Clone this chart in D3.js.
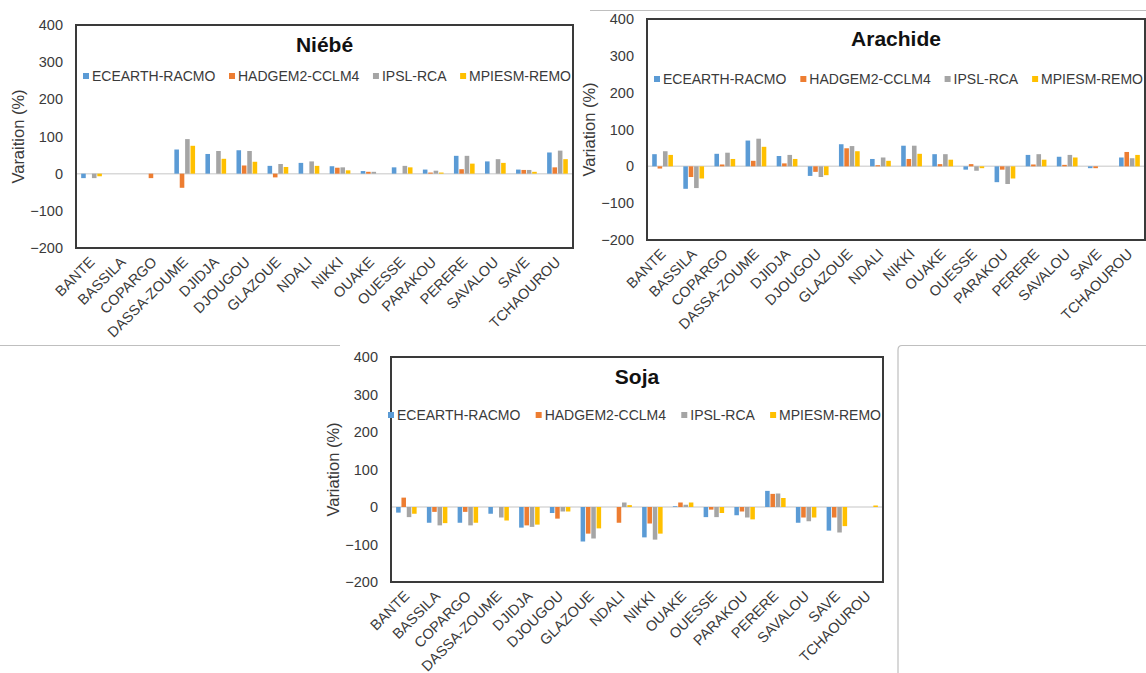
<!DOCTYPE html>
<html><head><meta charset="utf-8">
<script src="https://cdn.jsdelivr.net/npm/d3@7"></script>
<style>
body{margin:0;background:#fff;}
svg{display:block;font-family:"Liberation Sans",Arial,sans-serif;}
</style></head>
<body><svg id="c" width="1146" height="673"></svg>
<script>
const categories = ["BANTE","BASSILA","COPARGO","DASSA-ZOUME","DJIDJA","DJOUGOU","GLAZOUE","NDALI","NIKKI","OUAKE","OUESSE","PARAKOU","PERERE","SAVALOU","SAVE","TCHAOUROU"];
const seriesNames = ["ECEARTH-RACMO","HADGEM2-CCLM4","IPSL-RCA","MPIESM-REMO"];
const yTicks = [-200,-100,0,100,200,300,400];

const niebeEcearth = [-12, 0, 0, 65, 53, 63, 21, 29, 20, 7, 17, 11, 48, 33, 11, 57];
const niebeHadgem  = [0, 0, -12, -38, 0, 22, -10, 0, 16, 5, 0, 3, 12, 0, 10, 17];
const niebeIpsl    = [-12, 0, 0, 93, 61, 61, 26, 33, 17, 5, 21, 8, 48, 39, 10, 62];
const niebeMpiesm  = [-7, 0, 0, 75, 40, 32, 18, 21, 9, 0, 17, 3, 27, 29, 5, 39];

const arachideEcearth = [33, -61, 34, 70, 28, -26, 60, 20, 56, 33, -9, -43, 31, 26, -5, 24];
const arachideHadgem  = [-6, -29, 5, 15, 8, -15, 49, 3, 20, 6, 6, -9, 5, 4, -5, 39];
const arachideIpsl    = [41, -59, 37, 75, 31, -29, 55, 24, 56, 33, -12, -48, 33, 31, 0, 22];
const arachideMpiesm  = [31, -33, 20, 53, 20, -24, 41, 15, 34, 18, -5, -33, 18, 24, 0, 31];

const sojaEcearth = [-15, -42, -42, -18, -55, -16, -92, 0, -81, 2, -27, -22, 43, -42, -63, 0];
const sojaHadgem  = [25, -13, -13, 0, -49, -31, -71, -42, -44, 12, -7, -12, 35, -28, -28, 0];
const sojaIpsl    = [-27, -49, -49, -28, -53, -12, -84, 12, -87, 6, -27, -28, 36, -38, -68, 0];
const sojaMpiesm  = [-18, -43, -42, -36, -47, -12, -57, 5, -71, 12, -16, -33, 24, -28, -51, 4];

const colors = ["#5B9BD5","#ED7D31","#A5A5A5","#FFC000"];

const panels = [
  {title:"Niébé", ylabel:"Varaition (%)", data:[niebeEcearth,niebeHadgem,niebeIpsl,niebeMpiesm],
   box:{l:76,r:573,t:25,b:248}, legendY:76},
  {title:"Arachide", ylabel:"Variation (%)", data:[arachideEcearth,arachideHadgem,arachideIpsl,arachideMpiesm],
   box:{l:647,r:1145,t:19,b:240}, legendY:79},
  {title:"Soja", ylabel:"Variation (%)", data:[sojaEcearth,sojaHadgem,sojaIpsl,sojaMpiesm],
   box:{l:391,r:883,t:357,b:582}, legendY:415, legendX0:388}
];

const svg = d3.select("#c");

// leftover figure borders
const borders = svg.append("g").attr("stroke","#BFBFBF").attr("stroke-width",1.2).attr("fill","none");
borders.append("line").attr("x1",590).attr("x2",1146).attr("y1",10.5).attr("y2",10.5);
borders.append("line").attr("x1",0).attr("x2",340).attr("y1",345.5).attr("y2",345.5);
borders.append("path").attr("d","M898,673 L898,350 Q898,345.5 902,345.5 L1146,345.5");

panels.forEach(p => {
  const g = svg.append("g");
  const {l,r,t,b} = p.box;
  const y = d3.scaleLinear().domain([-200,400]).range([b,t]);
  const x0 = d3.scaleBand().domain(categories).range([l,r]).paddingInner(0).paddingOuter(0);
  const bw = x0.bandwidth();
  const groupW = bw/1.5;
  const x1 = d3.scaleBand().domain(seriesNames).range([(bw-groupW)/2,(bw+groupW)/2]).paddingInner(0.15);

  g.append("line").attr("x1",l).attr("x2",r).attr("y1",y(0)).attr("y2",y(0))
    .attr("stroke","#D9D9D9").attr("stroke-width",1.5);

  seriesNames.forEach((s,si) => {
    g.append("g").selectAll("rect").data(p.data[si]).join("rect")
      .attr("x",(d,i)=>x0(categories[i])+x1(s))
      .attr("width",x1.bandwidth())
      .attr("y",d=>y(Math.max(0,d)))
      .attr("height",d=>Math.abs(y(d)-y(0)))
      .attr("fill",colors[si]);
  });

  g.append("rect").attr("x",l).attr("y",t).attr("width",r-l).attr("height",b-t)
    .attr("fill","none").attr("stroke","#3a3a3a").attr("stroke-width",2);

  const ya = d3.axisLeft(y).tickValues(yTicks).tickSize(0).tickPadding(13);
  const yg = g.append("g").attr("transform",`translate(${l},0)`).call(ya);
  yg.select(".domain").remove();
  yg.selectAll("text").attr("font-size",14.5).attr("fill","#3a3a3a").attr("font-family","Liberation Sans, Arial, sans-serif");

  const xa = d3.axisBottom(x0).tickSize(0).tickPadding(0);
  const xg = g.append("g").attr("transform",`translate(0,${b})`).call(xa);
  xg.select(".domain").remove();
  xg.selectAll("text")
    .attr("font-size",14.5).attr("fill","#3a3a3a").attr("font-family","Liberation Sans, Arial, sans-serif")
    .attr("text-anchor","end").attr("dy",null).attr("y",null)
    .attr("transform","translate(4,15) rotate(-45)");

  g.append("text").attr("transform",`translate(${l-52},${(t+b)/2}) rotate(-90)`)
    .attr("text-anchor","middle").attr("font-size",16.5).attr("fill","#3a3a3a").text(p.ylabel);

  g.append("text").attr("x",(l+r)/2).attr("y",t+27).attr("text-anchor","middle")
    .attr("font-size",21).attr("font-weight","bold").attr("fill","#111").text(p.title);

  const lg = g.append("g");
  const items = seriesNames.map((s,si) => {
    const it = lg.append("g");
    it.append("rect").attr("width",6).attr("height",6).attr("y",-3).attr("fill",colors[si]);
    const tx = it.append("text").attr("x",9).attr("dy","0.35em").attr("font-size",14).attr("fill","#3a3a3a").text(s);
    return {it, w: 9 + tx.node().getComputedTextLength()};
  });
  const x0L = p.legendX0 !== undefined ? p.legendX0 : l+7;
  const x1L = r-2;
  const total = d3.sum(items,d=>d.w);
  const gap = (x1L-x0L-total)/(items.length-1);
  let cx = x0L;
  items.forEach(d => { d.it.attr("transform",`translate(${cx},${p.legendY})`); cx += d.w + gap; });
});
</script></body></html>
